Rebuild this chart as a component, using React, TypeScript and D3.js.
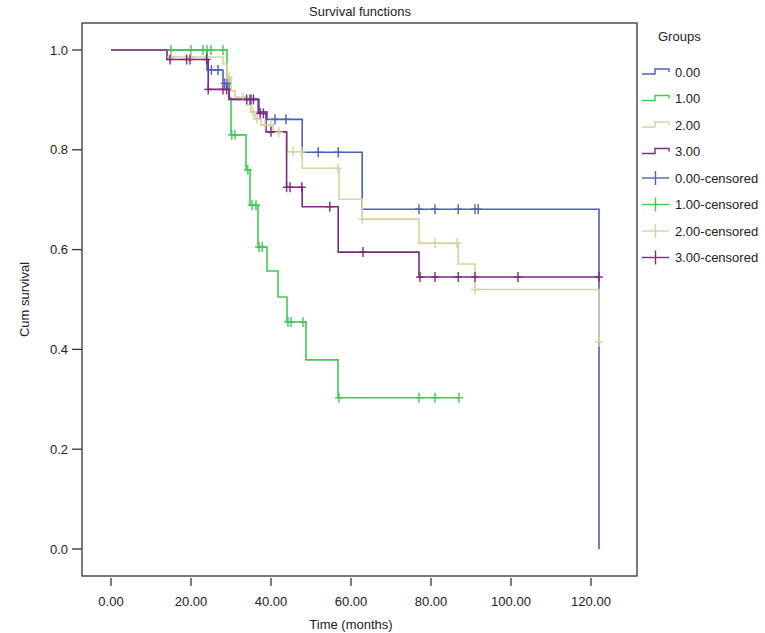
import React, { useEffect, useRef } from 'react';
import * as d3 from 'd3';

const groupNames = ['0.00', '1.00', '2.00', '3.00'];
const groupColors = ['#4f60b8', '#3fca54', '#d6d2a2', '#7b2c7c'];

// [time, survival after the event]
const steps0: [number, number][] = [
  [24, 0.96], [28, 0.933], [29.5, 0.901], [37, 0.876], [39, 0.861],
  [47.8, 0.795], [62.8, 0.681], [122, 0],
];
const censored0 = [25.1, 26.75, 28.4, 29, 35, 41, 43.75, 51.8, 56.8, 77, 81, 86.8, 91, 91.8];
const end0 = 122;

const steps1: [number, number][] = [
  [29, 0.946], [29.6, 0.904], [30, 0.83], [33.75, 0.76], [34.75, 0.689],
  [36.75, 0.605], [39, 0.557], [41.75, 0.505], [44, 0.455], [48.75, 0.379], [56.75, 0.303],
];
const censored1 = [15, 20, 23, 24, 25, 28, 30.2, 31, 34.2, 35.25, 36.25, 37, 37.8, 44.25, 45, 48, 57, 77, 81, 87];
const end1 = 87;

const steps2: [number, number][] = [
  [14, 0.986], [28, 0.972], [29, 0.945], [30, 0.918], [31, 0.905], [34, 0.89],
  [35, 0.876], [36, 0.862], [37.5, 0.85], [40.5, 0.835], [44, 0.796], [47.8, 0.763],
  [57, 0.701], [62.8, 0.661], [77, 0.613], [86.8, 0.571], [91, 0.52], [122, 0.415],
];
const censored2 = [15, 20, 29.5, 33, 35.5, 36.5, 38.5, 40, 42, 45.5, 47.7, 56.75, 62.8, 81, 86.5, 91, 122];
const end2 = 122;

const steps3: [number, number][] = [
  [14, 0.981], [24.3, 0.921], [29.5, 0.901], [36.8, 0.873], [38.75, 0.836],
  [43.9, 0.725], [47.8, 0.686], [56.8, 0.595], [77, 0.545],
];
const censored3 = [14.75, 18.9, 19.75, 23.9, 24.3, 28, 28.9, 33.9, 34.75, 35.6, 37.3, 38.1, 40, 43.9, 44.75, 47.7, 54.7, 63, 77.25, 81, 86.8, 91, 101.75, 122];
const end3 = 122;

const allSteps = [steps0, steps1, steps2, steps3];
const allCensored = [censored0, censored1, censored2, censored3];
const allEnds = [end0, end1, end2, end3];

const xTicks = [0, 20, 40, 60, 80, 100, 120];
const yTicks = [0, 0.2, 0.4, 0.6, 0.8, 1.0];

const W = 765;
const H = 633;
const frame = { left: 82, top: 23, right: 637, bottom: 576 };
const font = '"Liberation Sans", Arial, Helvetica, sans-serif';

const survivalAt = (steps: [number, number][], t: number) => {
  let s = 1;
  for (const [st, sv] of steps) {
    if (st <= t) s = sv;
  }
  return s;
};

export default function App() {
  const svgRef = useRef<SVGSVGElement>(null);

  useEffect(() => {
    const svg = d3.select(svgRef.current);
    svg.selectAll('*').remove();

    const x = d3.scaleLinear().domain([0, 120]).range([111, 591]);
    const y = d3.scaleLinear().domain([0, 1]).range([549, 50]);

    svg.append('rect').attr('width', W).attr('height', H).attr('fill', '#fff');

    // title
    svg
      .append('text')
      .attr('x', 360)
      .attr('y', 16)
      .attr('text-anchor', 'middle')
      .attr('font-size', 13)
      .attr('fill', '#222')
      .text('Survival functions');

    // frame
    svg
      .append('rect')
      .attr('x', frame.left)
      .attr('y', frame.top)
      .attr('width', frame.right - frame.left)
      .attr('height', frame.bottom - frame.top)
      .attr('fill', 'none')
      .attr('stroke', '#333')
      .attr('stroke-width', 1.3);

    // y ticks
    const yg = svg.append('g');
    yTicks.forEach((v) => {
      yg.append('line')
        .attr('x1', frame.left - 10)
        .attr('x2', frame.left)
        .attr('y1', y(v))
        .attr('y2', y(v))
        .attr('stroke', '#333')
        .attr('stroke-width', 1.3);
      yg.append('text')
        .attr('x', frame.left - 14)
        .attr('y', y(v) + 4.5)
        .attr('text-anchor', 'end')
        .attr('font-size', 13)
        .attr('fill', '#222')
        .text(d3.format('.1f')(v));
    });

    // x ticks
    const xg = svg.append('g');
    xTicks.forEach((v) => {
      xg.append('line')
        .attr('x1', x(v))
        .attr('x2', x(v))
        .attr('y1', frame.bottom + 2)
        .attr('y2', frame.bottom + 10)
        .attr('stroke', '#333')
        .attr('stroke-width', 1.3);
      xg.append('text')
        .attr('x', x(v))
        .attr('y', frame.bottom + 30)
        .attr('text-anchor', 'middle')
        .attr('font-size', 13)
        .attr('fill', '#222')
        .text(d3.format('.2f')(v));
    });

    svg
      .append('text')
      .attr('x', (x(0) + x(120)) / 2)
      .attr('y', 629)
      .attr('text-anchor', 'middle')
      .attr('font-size', 13)
      .attr('fill', '#222')
      .text('Time (months)');

    svg
      .append('text')
      .attr('transform', `translate(29,${(frame.top + frame.bottom) / 2}) rotate(-90)`)
      .attr('text-anchor', 'middle')
      .attr('font-size', 13)
      .attr('fill', '#222')
      .text('Cum survival');

    // survival curves
    const line = d3
      .line<[number, number]>()
      .x((d) => x(d[0]))
      .y((d) => y(d[1]))
      .curve(d3.curveStepAfter);

    allSteps.forEach((steps, i) => {
      const last = steps[steps.length - 1][1];
      const pts: [number, number][] = [[0, 1], ...steps, [allEnds[i], last]];
      svg
        .append('path')
        .datum(pts)
        .attr('fill', 'none')
        .attr('stroke', groupColors[i])
        .attr('stroke-width', 1.6)
        .attr('d', line);
    });

    allCensored.forEach((cens, i) => {
      const g = svg.append('g').attr('stroke', groupColors[i]).attr('stroke-width', 1.4);
      cens.forEach((t) => {
        const cx = x(t);
        const cy = y(survivalAt(allSteps[i], t));
        g.append('line').attr('x1', cx).attr('x2', cx).attr('y1', cy - 5).attr('y2', cy + 5);
        g.append('line').attr('x1', cx - 4).attr('x2', cx + 4).attr('y1', cy).attr('y2', cy);
      });
    });

    // legend
    const lg = svg.append('g');
    lg.append('text')
      .attr('x', 658)
      .attr('y', 41)
      .attr('font-size', 13)
      .attr('fill', '#222')
      .text('Groups');

    const legendItems = [
      ...groupNames.map((n, i) => ({ label: n, color: groupColors[i], censored: false })),
      ...groupNames.map((n, i) => ({ label: `${n}-censored`, color: groupColors[i], censored: true })),
    ];
    legendItems.forEach((item, k) => {
      const cy = 72 + k * 26.5;
      if (item.censored) {
        lg.append('line')
          .attr('x1', 642).attr('x2', 669).attr('y1', cy).attr('y2', cy)
          .attr('stroke', item.color).attr('stroke-width', 1.4);
        lg.append('line')
          .attr('x1', 655.5).attr('x2', 655.5).attr('y1', cy - 7).attr('y2', cy + 7)
          .attr('stroke', item.color).attr('stroke-width', 1.4);
      } else {
        lg.append('path')
          .attr('d', `M642,${cy + 2}H655V${cy - 3}H669V${cy}`)
          .attr('fill', 'none')
          .attr('stroke', item.color)
          .attr('stroke-width', 1.4);
      }
      lg.append('text')
        .attr('x', 675)
        .attr('y', cy + 4.5)
        .attr('font-size', 13)
        .attr('fill', '#222')
        .text(item.label);
    });
  }, []);

  return (
    <div style={{ position: 'absolute', left: 0, top: 0 }}>
      <svg
        ref={svgRef}
        width={W}
        height={H}
        viewBox={`0 0 ${W} ${H}`}
        style={{ display: 'block', fontFamily: font }}
      />
    </div>
  );
}
